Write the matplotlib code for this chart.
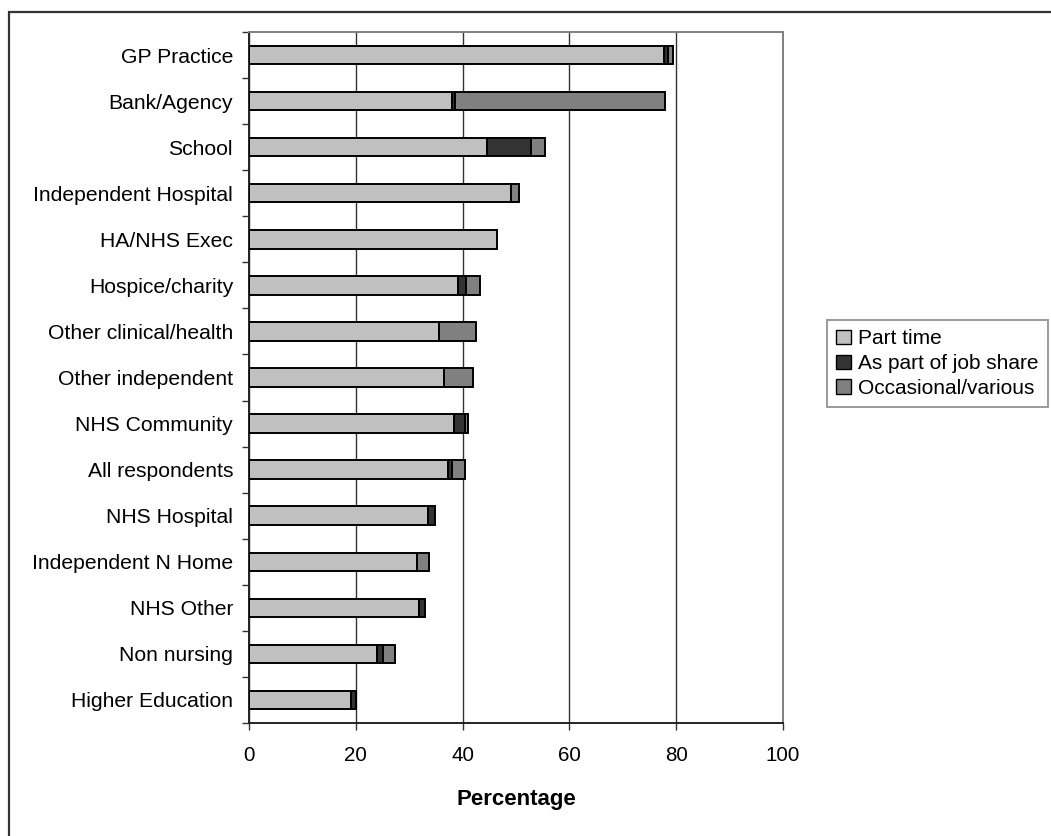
import matplotlib
matplotlib.use("Agg")
import matplotlib.pyplot as plt
from matplotlib.patches import Rectangle
import numpy as np

plt.rcParams['font.family'] = ['Liberation Sans', 'DejaVu Sans']

categories = [
    "GP Practice", "Bank/Agency", "School", "Independent Hospital",
    "HA/NHS Exec", "Hospice/charity", "Other clinical/health",
    "Other independent", "NHS Community", "All respondents",
    "NHS Hospital", "Independent N Home", "NHS Other", "Non nursing",
    "Higher Education",
]
part_time = [77.8, 38.1, 44.5, 49.0, 46.4, 39.2, 35.5, 36.6, 38.4, 37.3,
             33.6, 31.4, 31.8, 23.9, 19.1]
job_share = [0.6, 0.5, 8.3, 0.0, 0.0, 1.5, 0.0, 0.0, 2.0, 0.8,
             1.2, 0.0, 1.1, 1.2, 1.0]
occasional = [1.0, 39.3, 2.6, 1.6, 0.0, 2.6, 7.1, 5.3, 0.7, 2.3,
              0.0, 2.3, 0.0, 2.2, 0.0]
series_names = ["Part time", "As part of job share", "Occasional/various"]
series_colors = ["#C0C0C0", "#333333", "#808080"]
x_ticks = [0, 20, 40, 60, 80, 100]

fig = plt.figure(figsize=(10.51, 8.36), dpi=100)
ax = fig.add_axes([249 / 1051, 1 - 723 / 836, 534 / 1051, 691 / 836])

y = np.arange(len(categories))
left = np.zeros(len(categories))
handles = []
for vals, name, col in zip([part_time, job_share, occasional], series_names, series_colors):
    vals = np.asarray(vals)
    mask = vals > 0
    ax.barh(y[mask], vals[mask], left=left[mask], height=0.4, color=col,
            edgecolor="black", linewidth=1.4, zorder=3)
    handles.append(Rectangle((0, 0), 1, 1, facecolor=col, edgecolor="black", linewidth=1.0))
    left = left + vals

ax.set_xlim(0, 100)
ax.set_ylim(len(categories) - 0.5, -0.5)
ax.set_xticks(x_ticks)
ax.set_xticklabels([str(v) for v in x_ticks])
ax.set_yticks(y)
ax.set_yticklabels(categories)
ax.set_yticks(np.arange(-0.5, len(categories), 1.0), minor=True)

ax.tick_params(axis="y", which="major", length=0, pad=11.5, labelsize=15.2)
ax.tick_params(axis="y", which="minor", length=5, width=1, color="#333333", direction="out")
ax.tick_params(axis="x", which="major", length=5, width=1, color="#333333",
               direction="out", pad=11.5, labelsize=14.8)

ax.grid(axis="x", color="#333333", linewidth=1.0, zorder=0)
ax.set_axisbelow(True)
for side in ("left", "bottom"):
    ax.spines[side].set_color("#222222")
    ax.spines[side].set_linewidth(1.4)
for side in ("top", "right"):
    ax.spines[side].set_color("#808080")
    ax.spines[side].set_linewidth(1.4)

ax.set_xlabel("Percentage", fontsize=16, fontweight="bold", labelpad=17)

leg = fig.legend(handles, series_names, loc="upper left",
                 bbox_to_anchor=(827 / 1051, 1 - 320 / 836),
                 fontsize=15, frameon=True, fancybox=False,
                 handlelength=0.7, handleheight=0.7, handletextpad=0.35,
                 borderpad=0.45, labelspacing=0.28, borderaxespad=0)
leg.get_frame().set_edgecolor("#808080")
leg.get_frame().set_linewidth(1.4)

# outer chart frame, running off the bottom and right edges
fig.add_artist(Rectangle((9 / 1051, -0.05), 1.2, (1 - 12 / 836) + 0.05,
                         transform=fig.transFigure, fill=False,
                         edgecolor="#333333", linewidth=1.6, clip_on=False))

fig.savefig("out.png", dpi=100)
